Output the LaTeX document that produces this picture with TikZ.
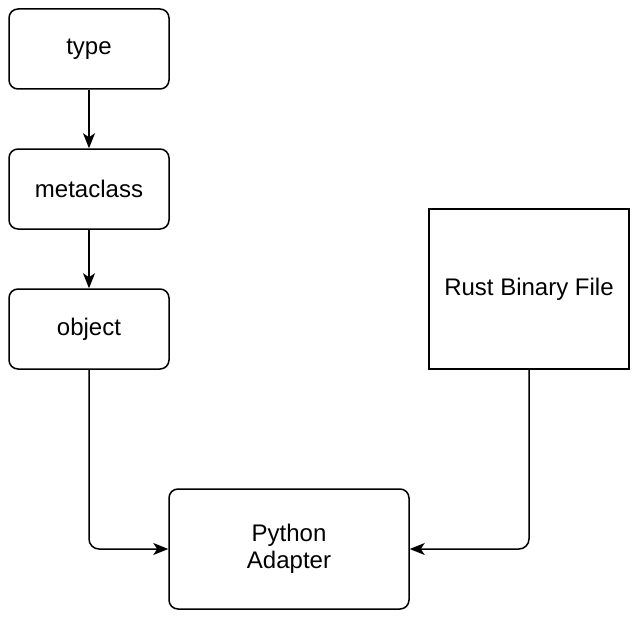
\documentclass[tikz,border=0pt]{standalone}
\usepackage{fontspec}
\setmainfont{Liberation Sans}
\usetikzlibrary{arrows.meta}

\begin{document}
\begin{tikzpicture}[x=1pt, y=-1pt, line width=1.5pt,
        box/.style={draw, rounded corners=9pt, minimum width=160pt, minimum height=80pt, align=center, font=\fontsize{24}{27}\selectfont},
        link/.style={-{Stealth[length=15pt, width=12pt, inset=4pt]}, rounded corners=10pt}]
        \useasboundingbox (0,0) rectangle (638,618);
        \node[box] (type) at (89,49) {type};
        \node[box] (meta) at (89,189) {metaclass};
        \node[box] (obj) at (89,329) {object};
        \node[box, rounded corners=0pt, minimum width=200pt, minimum height=160pt] (rust) at (529,289) {Rust Binary File};
        \node[box, minimum width=240pt, minimum height=120pt] (py) at (289,549) {Python\\Adapter};
        
        \draw[link] (type) -- (meta);
        \draw[link] (meta) -- (obj);
        \draw[link] (obj.south) |- (py.west);
        \draw[link] (rust.south) |- (py.east);
    \end{tikzpicture}
\end{document}
